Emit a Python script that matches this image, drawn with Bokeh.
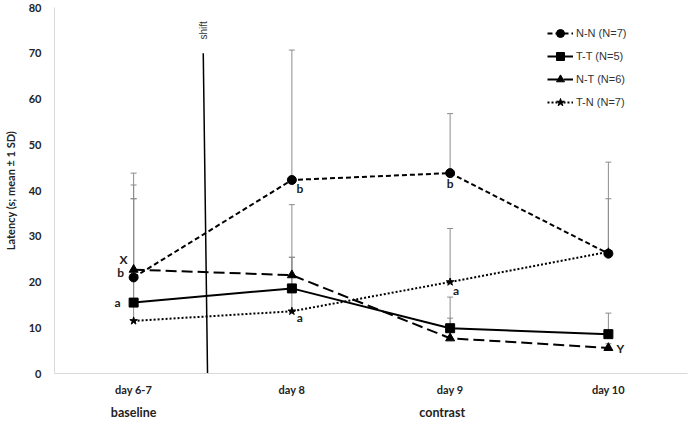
import math
from bokeh.plotting import figure
from bokeh.models import (ColumnDataSource, Whisker, TeeHead, Legend, LegendItem,
                          Label, FixedTicker, Range1d, LinearAxis)
from bokeh.core.properties import value
from bokeh.embed import file_html
from bokeh.resources import INLINE

# ---- data ----
days = ["day 6-7", "day 8", "day 9", "day 10"]
nn_mean = [21.0, 42.3, 43.8, 26.2]
tt_mean = [15.5, 18.6, 9.9, 8.6]
nt_mean = [22.7, 21.5, 7.7, 5.6]
tn_mean = [11.5, 13.6, 20.0, 26.6]
nn_upper = [41.2, 70.7, 56.8, 46.2]
tt_upper = [38.2, 25.4, 16.7, 13.2]
nt_upper = [43.8, 36.9, 12.1, 6.5]
tn_upper = [38.2, 25.4, 31.7, 38.2]
series_labels = ["N-N (N=7)", "T-T (N=5)", "N-T (N=6)", "T-N (N=7)"]
y_ticks = [0, 10, 20, 30, 40, 50, 60, 70, 80]
phase_labels = ["baseline", "contrast"]
phase_pos = [0.5, 2.45]
y_title = "Latency (s; mean ± 1 SD)"
shift_label = "shift"
shift_top = 70
# significance letters: (series index, day index, letter)
letters = [(2, 0, "X"), (0, 0, "b"), (1, 0, "a"), (0, 1, "b"), (3, 1, "a"),
           (0, 2, "b"), (3, 2, "a"), (2, 3, "Y")]

xs = [i + 0.5 for i in range(len(days))]

p = figure(width=689, height=422, output_backend="svg", toolbar_location=None,
           x_range=Range1d(0, 4), y_range=Range1d(0, 80),
           min_border_left=54, min_border_right=2, min_border_top=7,
           min_border_bottom=40)
p.outline_line_color = None
p.xgrid.grid_line_color = None
p.ygrid.grid_line_color = None

lab_font = "Lato"
p.yaxis.ticker = FixedTicker(ticks=y_ticks)
p.xaxis.ticker = FixedTicker(ticks=xs)
p.xaxis.major_label_overrides = {x: d for x, d in zip(xs, days)}

phase_axis = LinearAxis(ticker=FixedTicker(ticks=phase_pos),
                        major_label_overrides={x: t for x, t in zip(phase_pos, phase_labels)})
p.add_layout(phase_axis, "below")

for ax in (p.xaxis[0], p.yaxis[0], phase_axis):
    ax.axis_line_color = "#d9d9d9"
    ax.axis_line_width = 1
    ax.major_tick_line_color = None
    ax.minor_tick_line_color = None
    ax.major_label_text_font = lab_font
    ax.major_label_text_font_style = "bold"
    ax.major_label_text_font_size = "11px"
    ax.major_label_text_color = "#222222"
phase_axis.axis_line_color = None
phase_axis.major_label_text_font_size = "12.5px"
phase_axis.major_label_standoff = 0
p.yaxis.major_label_standoff = 7
p.xaxis[0].major_label_standoff = 3

p.yaxis.axis_label = y_title
p.yaxis.axis_label_text_font = lab_font
p.yaxis.axis_label_text_font_style = "bold"
p.yaxis.axis_label_text_font_size = "11px"
p.yaxis.axis_label_text_color = "#222222"
p.yaxis.axis_label_standoff = 9

means = [nn_mean, tt_mean, nt_mean, tn_mean]
uppers = [nn_upper, tt_upper, nt_upper, tn_upper]

# error bars (upper only)
for m, u in zip(means, uppers):
    src = ColumnDataSource(dict(x=xs, lower=m, upper=u))
    w = Whisker(source=src, base="x", lower="lower", upper="upper",
                line_color="#8c8c8c", line_width=1,
                upper_head=TeeHead(size=6, line_color="#8c8c8c", line_width=1),
                lower_head=None, level="underlay")
    p.add_layout(w)

# shift line
p.line(x=[0.94, 0.967], y=[shift_top, 0], line_color="black", line_width=1.5)
p.add_layout(Label(x=0.94, y=shift_top + 5, text=shift_label, angle=math.pi / 2,
                   text_font="Liberation Sans", text_font_size="10px",
                   text_align="center", text_baseline="middle", text_color="#333333"))

styles = [
    dict(dash="5 3", marker="circle", size=9),
    dict(dash="solid", marker="square", size=9),
    dict(dash="11 5", marker="triangle", size=9),
    dict(dash="2 2", marker="star", size=8),
]
items = []
for m, lab, st in zip(means, series_labels, styles):
    lr = p.line(xs, m, line_color="black", line_width=2, line_dash=st["dash"])
    sr = p.scatter(xs, m, marker=st["marker"], size=st["size"], fill_color="black",
                   line_color="black")
    items.append(LegendItem(label=lab, renderers=[lr, sr]))

legend = Legend(items=items, location=(493, 261), orientation="vertical",
                border_line_color=None, background_fill_alpha=0,
                label_text_font="Liberation Sans", label_text_font_size="11px",
                label_text_color="#333333", glyph_width=26, glyph_height=20,
                label_height=20, spacing=3, padding=0, margin=0, label_standoff=3)
p.add_layout(legend)

# significance letters
lt_x, lt_y, lt_t, lt_dx, lt_dy = [], [], [], [], []
offsets = {(2, 0): (-10, -10), (0, 0): (-13, -5), (1, 0): (-16, 0), (0, 1): (8, 9),
           (3, 1): (8, 6), (0, 2): (0, 10), (3, 2): (6, 8), (2, 3): (12, 1)}
for s, d, t in letters:
    lt_x.append(xs[d]); lt_y.append(means[s][d]); lt_t.append(t)
    dx, dy = offsets[(s, d)]
    lt_dx.append(dx); lt_dy.append(dy)
p.text(x="x", y="y", text="t", x_offset="dx", y_offset="dy",
       source=ColumnDataSource(dict(x=lt_x, y=lt_y, t=lt_t, dx=lt_dx, dy=lt_dy)),
       text_font=value(lab_font), text_font_style="bold", text_font_size="12px",
       text_align="center", text_baseline="middle", text_color="#222222")

open("out.html", "w").write(file_html(p, INLINE))
